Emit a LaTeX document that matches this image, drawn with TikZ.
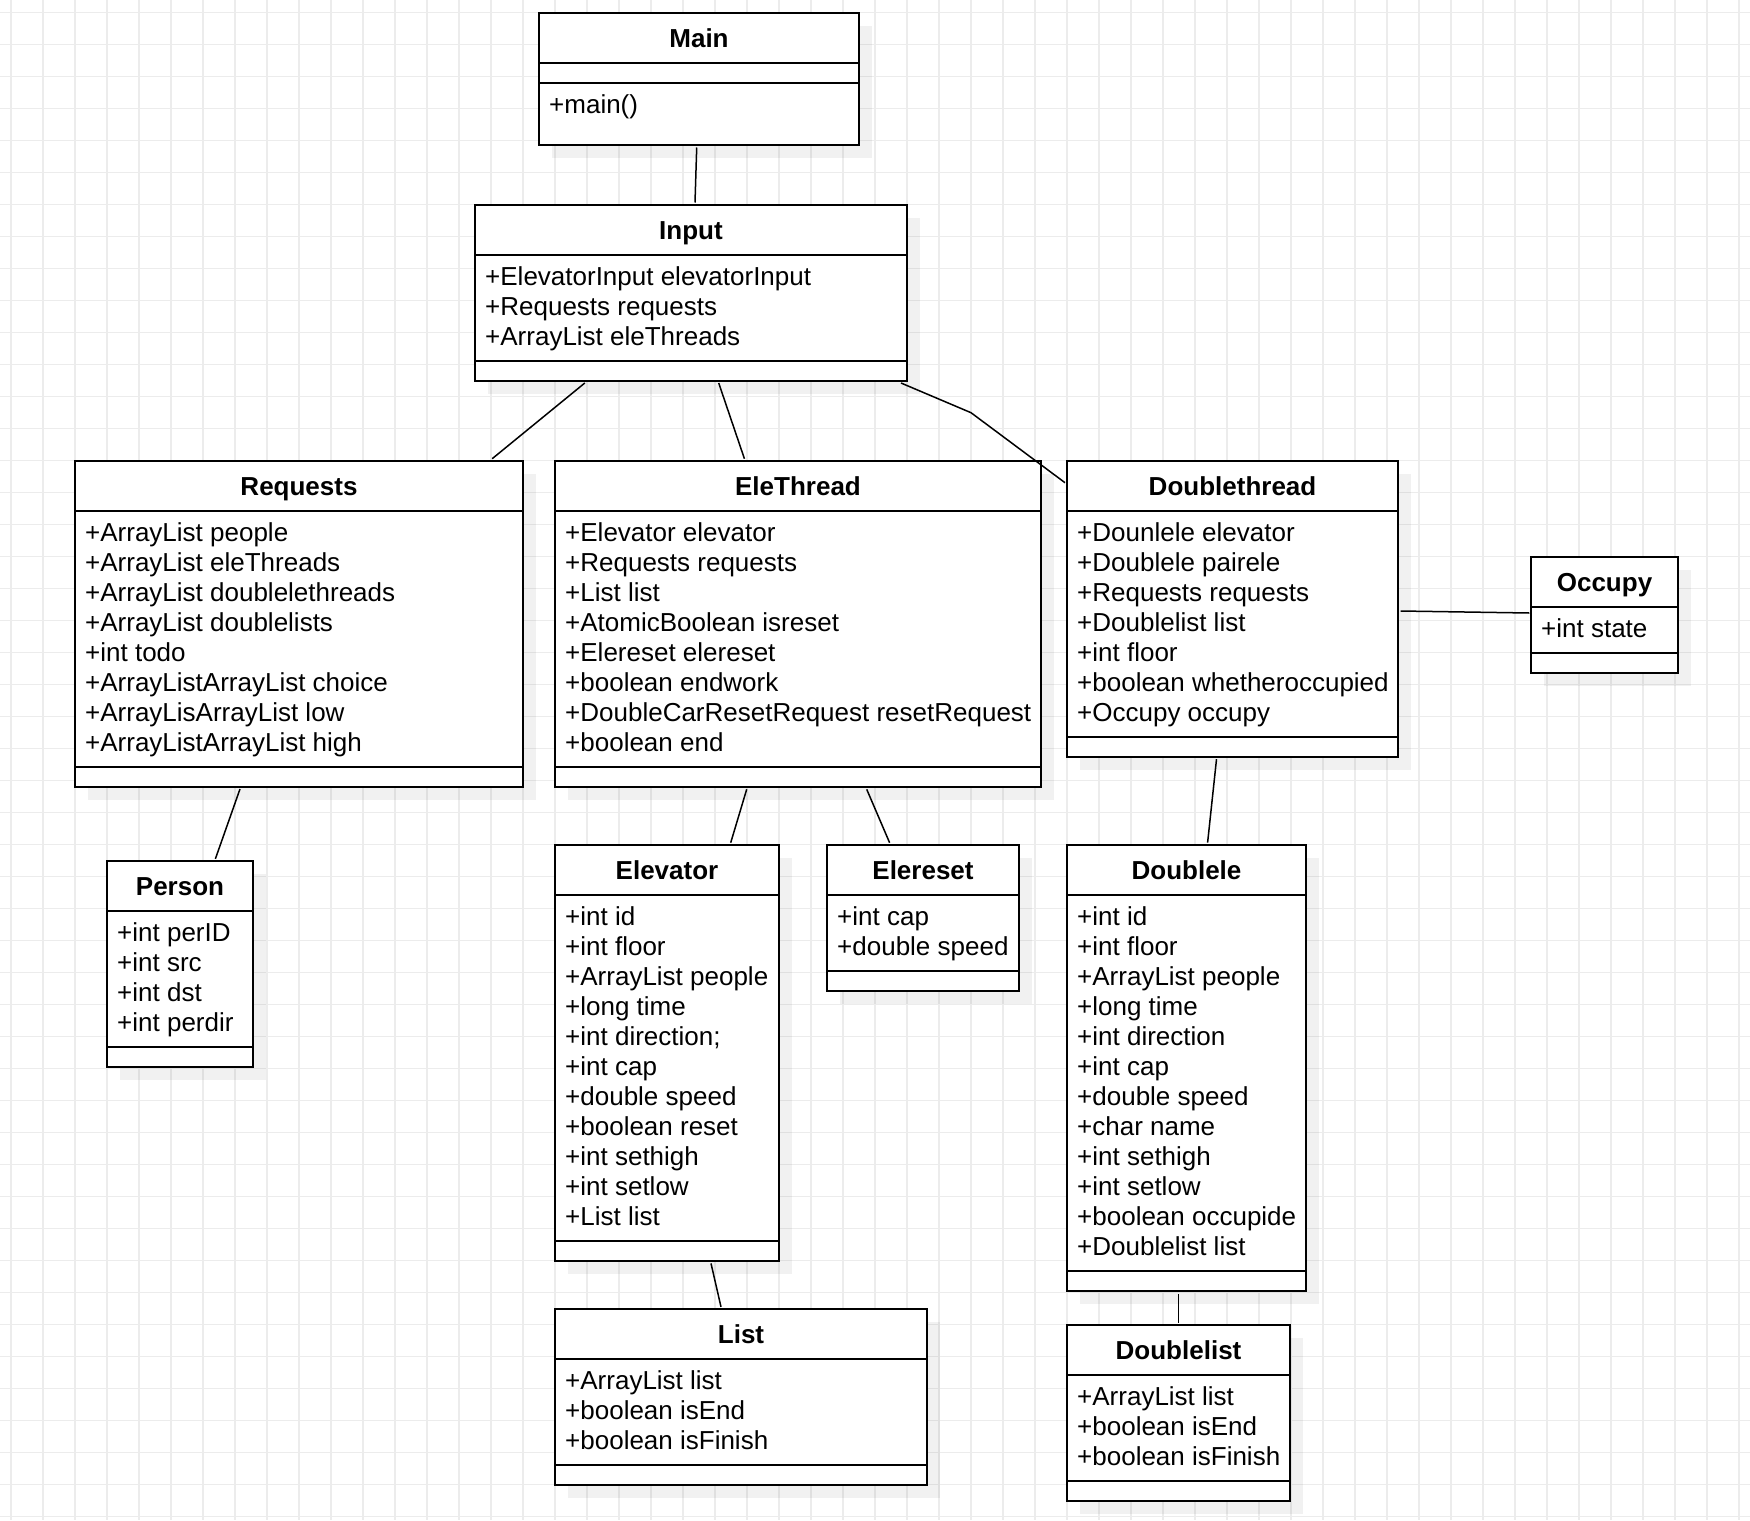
\documentclass[tikz,border=0pt]{standalone}
\usepackage{fontspec}
\setmainfont{Liberation Sans}
\usetikzlibrary{calc}
\definecolor{gridc}{RGB}{236,236,236}
\tikzset{
  gridline/.style={draw=gridc, line width=1.5pt},
  shadowc/.style={fill=black, fill opacity=0.055},
  classbox/.style={draw=black, fill=white, line width=1.8pt, inner sep=0pt, outer sep=0pt, rectangle},
  boxline/.style={draw=black, line width=1.8pt},
  classtitle/.style={font=\fontsize{26}{30}\selectfont\bfseries, inner sep=0pt, anchor=base},
  attr/.style={font=\fontsize{26}{30}\selectfont, inner sep=0pt, anchor=base west},
  conn/.style={draw=black, line width=1.5pt},
}
\newcommand\umlclass[7]{%
  \pgfmathsetmacro\hh{86+30*#5}%
  \fill[shadowc] (#2+13,#3+13) rectangle ++(#4,\hh);
  \node[classbox, minimum width=#4pt, minimum height=\hh pt, anchor=north west] (#1) at (#2,#3) {};
  \draw[boxline] ($(#1.north west)+(0,50)$) -- ($(#1.north east)+(0,50)$);
  \draw[boxline] ($(#1.south west)+(0,-20)$) -- ($(#1.south east)+(0,-20)$);
  \node[classtitle] (#1-title) at ($(#1.north)+(0,34.5)$) {#6};
  \foreach \t [count=\i] in {#7} \node[attr] (#1-a\i) at ($(#1.north west)+(10,50+30*\i)$) {\t};
}
\begin{document}
\begin{tikzpicture}[x=1pt,y=-1pt]
\useasboundingbox (0,0) rectangle (1750,1520);
\fill[white] (0,0) rectangle (1750,1520);
\foreach \g in {0,...,54} \draw[gridline] (10.8+32*\g,0) -- (10.8+32*\g,1520);
\foreach \g in {0,...,47} \draw[gridline] (0,12.7+32*\g) -- (1750,12.7+32*\g);

% Main (special layout)
\fill[shadowc] (552,26) rectangle ++(320,132);
\node[classbox, minimum width=320pt, minimum height=132pt, anchor=north west] (main) at (539,13) {};
\draw[boxline] ($(main.north west)+(0,50)$) -- ($(main.north east)+(0,50)$);
\draw[boxline] ($(main.north west)+(0,70)$) -- ($(main.north east)+(0,70)$);
\node[classtitle] (main-title) at ($(main.north)+(0,34.5)$) {Main};
\node[attr] (main-m1) at ($(main.north west)+(10,100)$) {+main()};

\umlclass{input}{475}{205}{432}{3}{Input}{+ElevatorInput elevatorInput,+Requests requests,+ArrayList eleThreads}
\umlclass{requests}{75}{461}{448}{8}{Requests}{+ArrayList people,+ArrayList eleThreads,+ArrayList doublelethreads,+ArrayList doublelists,+int todo,+ArrayListArrayList choice,+ArrayLisArrayList low,+ArrayListArrayList high}
\umlclass{elethread}{555}{461}{486}{8}{EleThread}{+Elevator elevator,+Requests requests,+List list,+AtomicBoolean isreset,+Elereset elereset,+boolean endwork,+DoubleCarResetRequest resetRequest,+boolean end}
\umlclass{doublethread}{1067}{461}{331}{7}{Doublethread}{+Dounlele elevator,+Doublele pairele,+Requests requests,+Doublelist list,+int floor,+boolean whetheroccupied,+Occupy occupy}
\umlclass{occupy}{1531}{557}{147}{1}{Occupy}{+int state}
\umlclass{person}{107}{861}{146}{4}{Person}{+int perID,+int src,+int dst,+int perdir}
\umlclass{elevator}{555}{845}{224}{11}{Elevator}{+int id,+int floor,+ArrayList people,+long time,+int direction;,+int cap,+double speed,+boolean reset,+int sethigh,+int setlow,+List list}
\umlclass{elereset}{827}{845}{192}{2}{Elereset}{+int cap,+double speed}
\umlclass{doublele}{1067}{845}{239}{12}{Doublele}{+int id,+int floor,+ArrayList people,+long time,+int direction,+int cap,+double speed,+char name,+int sethigh,+int setlow,+boolean occupide,+Doublelist list}
\umlclass{list}{555}{1309}{372}{3}{List}{+ArrayList list,+boolean isEnd,+boolean isFinish}
\umlclass{doublelist}{1067}{1325}{223}{3}{Doublelist}{+ArrayList list,+boolean isEnd,+boolean isFinish}

% connectors
\draw[conn] ($(main.south west)+(157.7,2.5)$) -- ($(input.north west)+(220,-2.5)$);
\draw[conn] ($(input.south west)+(109.8,2)$) -- ($(requests.north west)+(417.2,-2.3)$);
\draw[conn] ($(input.south west)+(243.7,2)$) -- ($(elethread.north west)+(189.4,-2.3)$);
\coordinate (bend1) at (971,412.7);
\draw[conn] ($(input.south west)+(426,2)$) -- (bend1) -- ($(doublethread.north west)+(-2,21.7)$);
\draw[conn] ($(requests.south west)+(165,2)$) -- ($(person.north west)+(108.4,-2.2)$);
\draw[conn] ($(elethread.south west)+(191.7,2.3)$) -- ($(elevator.north west)+(175.7,-2.3)$);
\draw[conn] ($(elethread.south west)+(311.7,2.3)$) -- ($(elereset.north west)+(62.6,-2.3)$);
\draw[conn] ($(doublethread.north east)+(2.6,150)$) -- ($(occupy.north west)+(-1.7,56)$);
\draw[conn] ($(doublethread.south west)+(149.5,2.2)$) -- ($(doublele.north west)+(140.6,-2.4)$);
\draw[conn] ($(elevator.south west)+(156,2.4)$) -- ($(list.north west)+(166,-2.1)$);
\draw[conn] ($(doublele.south west)+(111.6,3)$) -- ($(doublelist.north west)+(111.6,-2.2)$);
\end{tikzpicture}
\end{document}
